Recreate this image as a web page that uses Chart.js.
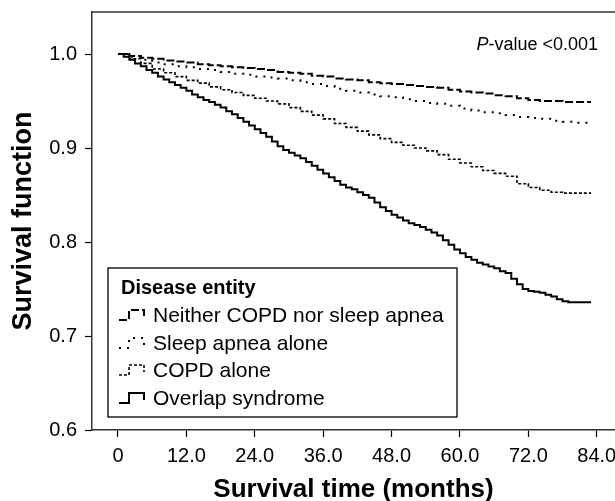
<!DOCTYPE html>
<html>
<head>
<meta charset="utf-8">
<script src="https://cdn.jsdelivr.net/npm/chart.js@4"></script>
<style>
  html, body { margin: 0; padding: 0; background: #fff; }
  #wrap { width: 615px; height: 501px; }
</style>
</head>
<body>
<div id="wrap"><canvas id="survivalChart" width="615" height="501"></canvas></div>
<script>
// Kaplan-Meier curves (months -> survival)
const months = [0, 2, 4, 6, 8, 10, 12, 14, 16, 18, 20, 22, 24, 26, 28, 30, 32, 34, 36, 38, 40,
  42, 44, 46, 48, 50, 52, 54, 56, 58, 60, 62, 64, 66, 68, 70, 72, 74, 76, 78, 80, 82, 83];

const neitherValues = [1.000, 0.998, 0.996, 0.995, 0.993, 0.992, 0.991, 0.989, 0.988, 0.987, 0.986,
  0.985, 0.984, 0.983, 0.981, 0.980, 0.979, 0.977, 0.976, 0.974, 0.973, 0.972, 0.970, 0.969, 0.968,
  0.967, 0.966, 0.965, 0.964, 0.962, 0.960, 0.959, 0.958, 0.956, 0.955, 0.953, 0.951, 0.950, 0.950,
  0.949, 0.949, 0.949, 0.949];

const sleepApneaValues = [1.000, 0.997, 0.994, 0.991, 0.989, 0.987, 0.986, 0.984, 0.983, 0.981, 0.979,
  0.978, 0.976, 0.975, 0.974, 0.972, 0.970, 0.968, 0.966, 0.963, 0.961, 0.959, 0.957, 0.955, 0.954,
  0.952, 0.950, 0.948, 0.947, 0.945, 0.942, 0.940, 0.938, 0.937, 0.935, 0.933, 0.932, 0.931, 0.929,
  0.928, 0.927, 0.927, 0.927];

const copdValues = [1.000, 0.995, 0.990, 0.984, 0.980, 0.976, 0.972, 0.969, 0.965, 0.962, 0.959,
  0.956, 0.953, 0.950, 0.947, 0.943, 0.939, 0.935, 0.931, 0.926, 0.922, 0.918, 0.914, 0.910, 0.906,
  0.903, 0.900, 0.897, 0.893, 0.888, 0.884, 0.880, 0.876, 0.873, 0.870, 0.862, 0.858, 0.855, 0.853,
  0.852, 0.852, 0.852, 0.852];

// overlap curve has visibly finer steps, read at one-month resolution
const overlapMonths = [0, 1, 2, 3, 4, 5, 6, 7, 8, 9, 10, 11, 12, 13, 14, 15, 16, 17, 18, 19, 20,
  21, 22, 23, 24, 25, 26, 27, 28, 29, 30, 31, 32, 33, 34, 35, 36, 37, 38, 39, 40, 41, 42, 43, 44,
  45, 46, 47, 48, 49, 50, 51, 52, 53, 54, 55, 56, 57, 58, 59, 60, 61, 62, 63, 64, 65, 66, 67, 68,
  69, 70, 71, 72, 73, 74, 75, 76, 77, 78, 79, 80, 81, 82, 83];

const overlapValues = [1.000, 0.997, 0.994, 0.990, 0.987, 0.983, 0.980, 0.976, 0.973, 0.970, 0.967,
  0.964, 0.961, 0.957, 0.954, 0.951, 0.949, 0.946, 0.943, 0.939, 0.936, 0.932, 0.928, 0.924, 0.920,
  0.916, 0.912, 0.907, 0.902, 0.898, 0.895, 0.892, 0.889, 0.885, 0.881, 0.877, 0.873, 0.869, 0.865,
  0.861, 0.858, 0.856, 0.853, 0.850, 0.847, 0.842, 0.837, 0.833, 0.829, 0.826, 0.823, 0.820, 0.818,
  0.816, 0.813, 0.810, 0.807, 0.802, 0.797, 0.792, 0.788, 0.784, 0.781, 0.778, 0.776, 0.774, 0.772,
  0.769, 0.767, 0.761, 0.755, 0.750, 0.748, 0.747, 0.746, 0.744, 0.742, 0.739, 0.737, 0.736, 0.736,
  0.736, 0.736, 0.736];

const seriesNames = ["Neither COPD nor sleep apnea", "Sleep apnea alone", "COPD alone", "Overlap syndrome"];
const seriesDashes = [[8, 3], [2, 6], [3, 2], []];
const seriesWidths = [2, 2, 1.6, 2];

const xTicks = [0, 12, 24, 36, 48, 60, 72, 84];
const yTicks = [0.6, 0.7, 0.8, 0.9, 1.0];

const FONT = "'Liberation Sans', Arial, sans-serif";

function toPoints(xs, values) {
  return xs.map((m, i) => ({ x: m, y: values[i] }));
}

const seriesData = [
  toPoints(months, neitherValues),
  toPoints(months, sleepApneaValues),
  toPoints(months, copdValues),
  toPoints(overlapMonths, overlapValues)
];

// top frame line, p-value note and boxed legend
const decorPlugin = {
  id: "decor",
  afterDraw(chart) {
    const ctx = chart.ctx;
    const area = chart.chartArea;
    ctx.save();
    ctx.strokeStyle = "#333";
    ctx.lineWidth = 1.5;
    ctx.beginPath();
    ctx.moveTo(area.left, area.top);
    ctx.lineTo(chart.width, area.top);
    ctx.stroke();

    // P-value
    ctx.fillStyle = "#000";
    ctx.textBaseline = "middle";
    ctx.font = "18px " + FONT;
    const rest = "-value <0.001";
    const restW = ctx.measureText(rest).width;
    ctx.font = "italic 18px " + FONT;
    const pW = ctx.measureText("P").width;
    const right = 598;
    ctx.fillText("P", right - restW - pW, 45);
    ctx.font = "18px " + FONT;
    ctx.fillText(rest, right - restW, 45);

    // legend box
    const bx = 108, by = 268, bw = 349, bh = 149;
    ctx.fillStyle = "#fff";
    ctx.fillRect(bx, by, bw, bh);
    ctx.strokeStyle = "#000";
    ctx.lineWidth = 1.3;
    ctx.strokeRect(bx, by, bw, bh);

    ctx.fillStyle = "#000";
    ctx.font = "bold 20px " + FONT;
    ctx.fillText("Disease entity", 121, 288);

    ctx.font = "21px " + FONT;
    const rowY = [315, 343, 370, 398];
    seriesNames.forEach((name, i) => {
      const y = rowY[i];
      const x0 = 119;
      ctx.setLineDash(seriesDashes[i]);
      ctx.lineWidth = seriesWidths[i];
      ctx.strokeStyle = "#000";
      ctx.beginPath();
      ctx.moveTo(x0, y + 5);
      ctx.lineTo(x0 + 10, y + 5);
      ctx.lineTo(x0 + 10, y - 5);
      ctx.lineTo(x0 + 25, y - 5);
      ctx.lineTo(x0 + 25, y + 2);
      ctx.stroke();
      ctx.setLineDash([]);
      ctx.fillText(name, 153, y + 1);
    });
    ctx.restore();
  }
};

new Chart(document.getElementById("survivalChart"), {
  type: "line",
  data: {
    datasets: seriesNames.map((name, i) => ({
      label: name,
      data: seriesData[i],
      borderColor: "#000",
      borderWidth: seriesWidths[i],
      borderDash: seriesDashes[i],
      stepped: true,
      pointRadius: 0,
      fill: false
    }))
  },
  options: {
    responsive: false,
    animation: false,
    layout: { padding: { left: 0, top: 12, right: 0, bottom: 0 } },
    plugins: {
      legend: { display: false },
      tooltip: { enabled: false }
    },
    scales: {
      x: {
        type: "linear",
        min: -4.56,
        max: 87.2,
        afterBuildTicks: (axis) => { axis.ticks = xTicks.map((v) => ({ value: v })); },
        afterFit: (axis) => {
          axis.height = 71;
          axis.paddingLeft = 0;
          axis.paddingRight = 0;
        },
        ticks: {
          color: "#000",
          font: { family: FONT, size: 20 },
          padding: 7,
          maxRotation: 0,
          callback: (v) => (v === 0 ? "0" : v.toFixed(1))
        },
        grid: { drawOnChartArea: false, tickLength: 7, color: "#000", tickWidth: 1.2 },
        border: { display: true, color: "#333", width: 1.5 },
        title: {
          display: true,
          text: "Survival time (months)",
          color: "#000",
          font: { family: FONT, size: 26, weight: "bold", lineHeight: 0.85 },
          padding: { top: 0, bottom: 0 }
        }
      },
      y: {
        min: 0.6,
        max: 1.0447,
        afterBuildTicks: (axis) => { axis.ticks = yTicks.map((v) => ({ value: v })); },
        afterFit: (axis) => {
          axis.width = 92;
          axis.paddingTop = 0;
          axis.paddingBottom = 0;
        },
        ticks: {
          color: "#000",
          font: { family: FONT, size: 20 },
          padding: 8,
          callback: (v) => v.toFixed(1)
        },
        grid: { drawOnChartArea: false, tickLength: 7, color: "#000", tickWidth: 1.2 },
        border: { display: true, color: "#333", width: 1.5 },
        title: {
          display: true,
          text: "Survival function",
          color: "#000",
          font: { family: FONT, size: 27, weight: "bold" },
          padding: { top: 7, bottom: 0 }
        }
      }
    }
  },
  plugins: [decorPlugin]
});
</script>
</body>
</html>
